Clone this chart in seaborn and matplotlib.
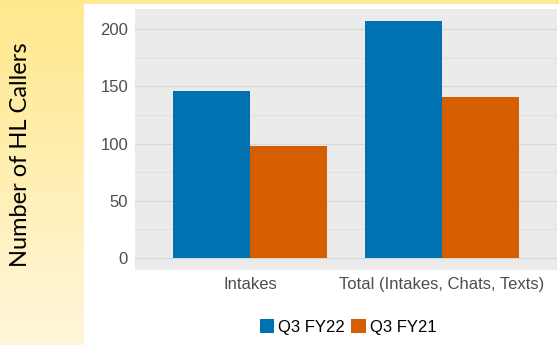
import numpy as np
import pandas as pd
import matplotlib
matplotlib.use("Agg")
import matplotlib.pyplot as plt
from matplotlib.patches import Patch, Rectangle
import seaborn as sns

categories = ["Intakes", "Total (Intakes, Chats, Texts)"]
series = ["Q3 FY22", "Q3 FY21"]
q3_fy22 = [146, 207]
q3_fy21 = [98, 141]
colors = ["#0072B2", "#D55E00"]
y_ticks = [0, 50, 100, 150, 200]

df = pd.DataFrame({
    "category": categories * 2,
    "series": [series[0]] * 2 + [series[1]] * 2,
    "value": q3_fy22 + q3_fy21,
})

sns.set_theme(style="white")
plt.rcParams["font.family"] = ["Liberation Sans", "DejaVu Sans"]

W, H = 559, 345
fig = plt.figure(figsize=(W / 100, H / 100), dpi=100)

# background: yellow gradient + white panel
bg = fig.add_axes([0, 0, 1, 1], zorder=-10)
grad = np.linspace(0, 1, 256).reshape(-1, 1)
top = np.array([255, 232, 140]) / 255
bot = np.array([255, 246, 218]) / 255
img = top[None, None, :] * (1 - grad[:, :, None]) + bot[None, None, :] * grad[:, :, None]
bg.imshow(img, aspect="auto", extent=[0, 1, 0, 1], origin="upper")
bg.add_patch(Rectangle((84 / W, 0), 1 - 84 / W, 1 - 4 / H, color="white", transform=bg.transAxes))
bg.set_xlim(0, 1)
bg.set_ylim(0, 1)
bg.axis("off")

ax = fig.add_axes([135 / W, 1 - 270 / H, 422 / W, 261 / H])
ax.set_facecolor("#EBEBEB")
sns.barplot(data=df, x="category", y="value", hue="series", hue_order=series,
            palette=colors, width=0.8, saturation=1, ax=ax, legend=False,
            edgecolor="none", linewidth=0, zorder=3)

ax.set_xlim(-0.6, 1.6)
ax.set_ylim(-10.35, 217.35)
ax.set_yticks(y_ticks)
ax.set_yticks([25, 75, 125, 175], minor=True)
ax.grid(True, which="major", axis="y", color="#D8D8D8", linewidth=0.9, zorder=0)
ax.grid(True, which="minor", axis="y", color="#DEDEDE", linewidth=0.6, zorder=0)
ax.set_axisbelow(True)
for s in ax.spines.values():
    s.set_visible(False)
ax.tick_params(axis="both", which="major", labelsize=12, labelcolor="#4D4D4D",
               color="#4D4D4D", length=3, width=0.6, pad=2)
ax.tick_params(axis="y", which="minor", length=0)
ax.set_xlabel("")
ax.set_ylabel("")

fig.text(21 / W, 1 - 155 / H, "Number of HL Callers", rotation=90, ha="center", va="center",
         fontsize=17, color="black", family=["Lato", "DejaVu Sans"])

handles = [Patch(facecolor=c, edgecolor="none", label=l) for c, l in zip(colors, series)]
fig.legend(handles=handles, loc="center", bbox_to_anchor=(348 / W, 1 - 327 / H), ncol=2,
           frameon=False, fontsize=12, handlelength=0.85, handleheight=0.85,
           handletextpad=0.25, columnspacing=0.4, labelcolor="black")

fig.savefig("out.png", dpi=100)
